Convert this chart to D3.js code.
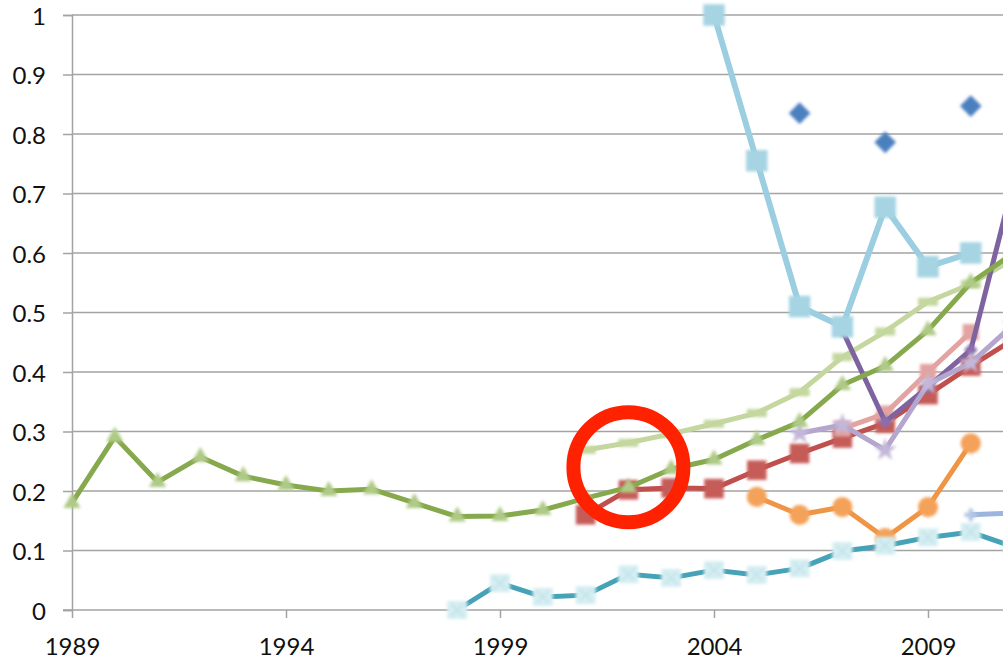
<!DOCTYPE html>
<html>
<head>
<meta charset="utf-8">
<script src="https://cdn.jsdelivr.net/npm/d3@7"></script>
<style>
  html, body { margin: 0; padding: 0; background: #fff; }
  svg { display: block; }
  text { font-family: Lato, "Open Sans", sans-serif; fill: #111; }
</style>
</head>
<body>
<svg id="chart" width="1003" height="660"></svg>
<script>
// Years on the category axis
const years = [1989,1990,1991,1992,1993,1994,1995,1996,1997,1998,1999,2000,
               2001,2002,2003,2004,2005,2006,2007,2008,2009,2010,2011];
const xTickYears = [1989, 1994, 1999, 2004, 2009];
const yTicks = [0,0.1,0.2,0.3,0.4,0.5,0.6,0.7,0.8,0.9,1];

// Series values, one per year (null = no value)
const _ = null;
const greenSeries    = [0.18,0.291,0.215,0.257,0.225,0.21,0.2,0.203,0.18,0.157,0.158,0.168,0.188,0.206,0.237,0.253,0.286,0.316,0.378,0.41,0.47,0.55,0.60];
const paleGreenSeries= [_,_,_,_,_,_,_,_,_,_,_,_,0.269,0.281,0.296,0.313,0.331,0.366,0.425,0.468,0.518,0.548,0.59];
const redSeries      = [_,_,_,_,_,_,_,_,_,_,_,_,0.16,0.202,0.205,0.204,0.235,0.263,0.289,0.314,0.362,0.41,0.455];
const pinkSeries     = [_,_,_,_,_,_,_,_,_,_,_,_,_,_,_,_,_,_,0.305,0.33,0.40,0.467,_];
const purpleSeries   = [_,_,_,_,_,_,_,_,_,_,_,_,_,_,_,_,_,_,0.47,0.316,0.375,0.437,0.72];
const lavenderSeries = [_,_,_,_,_,_,_,_,_,_,_,_,_,_,_,_,_,0.297,0.311,0.269,0.38,0.415,0.48];
const orangeSeries   = [_,_,_,_,_,_,_,_,_,_,_,_,_,_,_,_,0.19,0.16,0.173,0.121,0.173,0.28,_];
const tealSeries     = [_,_,_,_,_,_,_,_,_,0,0.045,0.022,0.025,0.06,0.054,0.067,0.059,0.07,0.099,0.108,0.122,0.131,0.106];
const steelSeries    = [_,_,_,_,_,_,_,_,_,_,_,_,_,_,_,_,_,_,_,_,_,0.16,0.163];
const skyBlueSeries  = [_,_,_,_,_,_,_,_,_,_,_,_,_,_,_,1.0,0.755,0.51,0.476,0.677,0.577,0.60,_];
const navySeries     = [_,_,_,_,_,_,_,_,_,_,_,_,_,_,_,_,_,0.835,_,0.786,_,0.847,_];

// Highlight ring, placed in data coordinates
const ringCenter = { year: 2002, value: 0.24 };

const svg = d3.select("#chart");
const W = 1003, H = 660;

const x = d3.scaleLinear().domain([1989, 2011]).range([72, 72 + 22 * 42.8]);
const y = d3.scaleLinear().domain([0, 1]).range([610, 15]);

const defs = svg.append("defs");
defs.append("filter").attr("id", "soft")
  .attr("x", "-50%").attr("y", "-50%").attr("width", "200%").attr("height", "200%")
  .append("feGaussianBlur").attr("stdDeviation", 1.4);

// Gridlines
svg.append("g").selectAll("line").data(yTicks.slice(1)).join("line")
  .attr("x1", 72).attr("x2", W)
  .attr("y1", d => y(d)).attr("y2", d => y(d))
  .attr("stroke", "#a3a3a3").attr("stroke-width", 1.5);

// Y axis
const yAxis = svg.append("g").attr("transform", "translate(72,0)")
  .call(d3.axisLeft(y).tickValues(yTicks).tickSize(9).tickPadding(17)
        .tickFormat(d => d3.format("~g")(d)));
yAxis.select(".domain").attr("stroke", "#a3a3a3").attr("stroke-width", 1.5);
yAxis.selectAll(".tick line").attr("stroke", "#a3a3a3").attr("stroke-width", 1.5);
yAxis.selectAll(".tick text").attr("dy", null).attr("y", 9)
  .attr("font-size", 24).style("fill", "#111");

// X axis
const xAxis = svg.append("g").attr("transform", "translate(0,610)")
  .call(d3.axisBottom(x).tickValues(xTickYears).tickSize(8).tickFormat(d3.format("d")));
xAxis.select(".domain").attr("stroke", "#a3a3a3").attr("stroke-width", 1.5)
  .attr("d", `M63,0H${W}`);
xAxis.selectAll(".tick line").attr("stroke", "#a3a3a3").attr("stroke-width", 1.5);
xAxis.selectAll(".tick text").attr("dy", null).attr("y", 45)
  .attr("font-size", 24).style("fill", "#111");

// Marker shapes
function drawMarker(g, type, size, fill, stroke) {
  if (type === "dash") {
    g.append("rect").attr("x", -10).attr("y", -4).attr("width", 20).attr("height", 8).attr("fill", fill);
  } else if (type === "xbox") {
    g.append("rect").attr("x", -10).attr("y", -9).attr("width", 20).attr("height", 18)
      .attr("fill", fill);
    g.append("path").attr("d", "M-6,-6L6,6M-6,6L6,-6").attr("stroke", stroke).attr("stroke-width", 2);
  } else {
    const sym = {square: d3.symbolSquare, circle: d3.symbolCircle, triangle: d3.symbolTriangle,
                 diamond: d3.symbolDiamond2, star: d3.symbolStar, cross: d3.symbolCross}[type];
    g.append("path").attr("d", d3.symbol(sym, size)()).attr("fill", fill);
  }
}

const series = [
  { values: paleGreenSeries, line: "#c4d79f", width: 5, marker: "dash", size: 0, mfill: "#c4d79f" },
  { values: redSeries, line: "#c0504d", width: 5, marker: "square", size: 380, mfill: "#c65b58" },
  { values: pinkSeries, line: "#e3a3a1", width: 5, marker: "square", size: 260, mfill: "#e3a3a1" },
  { values: purpleSeries, line: "#7f63a1", width: 5, marker: "diamond", size: 120, mfill: "#8a6eac" },
  { values: lavenderSeries, line: "#b4a6cc", width: 5, marker: "star", size: 170, mfill: "#c3b7d9" },
  { values: orangeSeries, line: "#ef9546", width: 5, marker: "circle", size: 320, mfill: "#f4a25a" },
  { values: tealSeries, line: "#45a2b7", width: 5, marker: "xbox", size: 0, mfill: "#d6eef2", mstroke: "#c0e3ea" },
  { values: steelSeries, line: "#9bb5dc", width: 5, marker: "cross", size: 90, mfill: "#b3c7e6" },
  { values: greenSeries, line: "#87a94d", width: 5, marker: "triangle", size: 130, mfill: "#afca86" },
  { values: skyBlueSeries, line: "#9acee0", width: 6, marker: "square", size: 460, mfill: "#a6d4e3" },
  { values: navySeries, line: "#4a7ebb", width: 5, marker: "diamond", size: 300, mfill: "#4b80bf" }
];

const plot = svg.append("g");
series.forEach(s => {
  const pts = years.map((yr, i) => ({ yr, v: s.values[i] }));
  const line = d3.line().defined(d => d.v != null).x(d => x(d.yr)).y(d => y(d.v));
  const g = plot.append("g");
  g.append("path").datum(pts).attr("d", line)
    .attr("fill", "none").attr("stroke", s.line).attr("stroke-width", s.width)
    .attr("stroke-linejoin", "round");
  const mg = g.append("g").attr("filter", "url(#soft)");
  pts.filter(d => d.v != null).forEach(d => {
    const m = mg.append("g").attr("transform", `translate(${x(d.yr)},${y(d.v)})`);
    drawMarker(m, s.marker, s.size, s.mfill, s.mstroke);
  });
});

// Highlight ring
svg.append("circle")
  .attr("cx", x(ringCenter.year)).attr("cy", y(ringCenter.value))
  .attr("r", 55).attr("fill", "none")
  .attr("stroke", "#ff2200").attr("stroke-width", 14);
</script>
</body>
</html>
